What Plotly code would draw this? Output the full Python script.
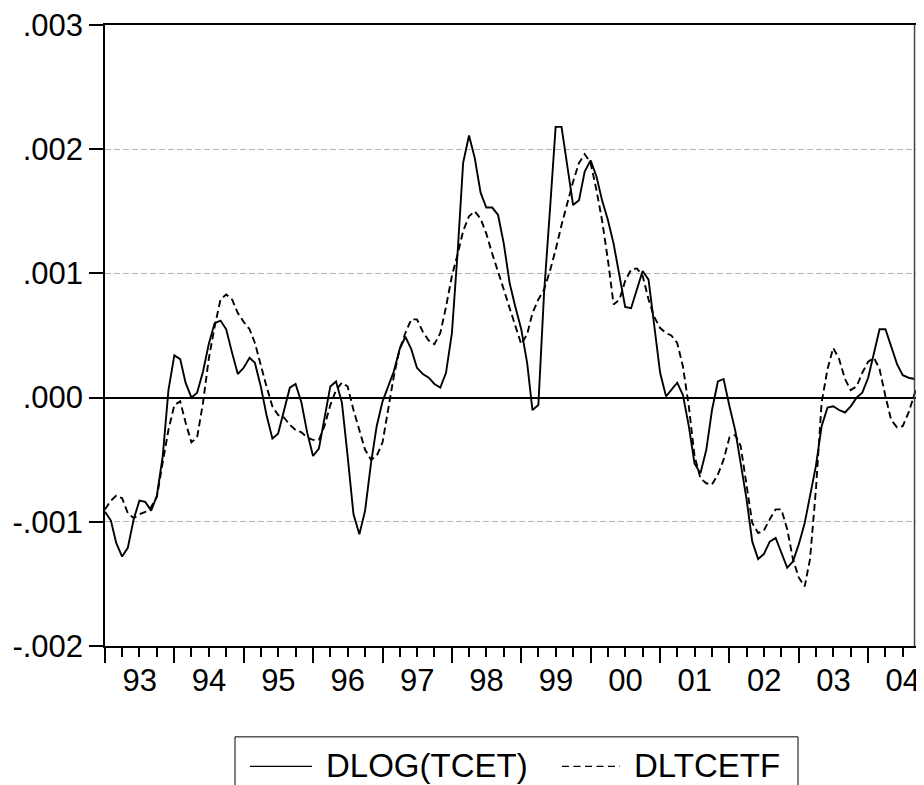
import pandas as pd
import plotly.graph_objects as go

START = "1993-01-01"
SAMPLE_END = "2004-09-01"
AXIS_END = "2004-12-02"

# DLOG(TCET), monthly 1993M01 .. 2004M09
dlog_tcet = [
    -0.00092, -0.00099, -0.00117, -0.00128, -0.00121, -0.00098, -0.00083, -0.00084, -0.00091, -0.00079, -0.00047, 0.00006,
    0.00034, 0.00031, 0.00012, 0.00000, 0.00004, 0.00021, 0.00043, 0.00060, 0.00062, 0.00055, 0.00036, 0.00019,
    0.00024, 0.00032, 0.00028, 0.00009, -0.00014, -0.00033, -0.00029, -0.00011, 0.00008, 0.00011, -0.00004, -0.00028,
    -0.00047, -0.00041, -0.00018, 0.00009, 0.00013, -0.00004, -0.00047, -0.00094, -0.00110, -0.00091, -0.00053, -0.00023,
    -0.00003, 0.00009, 0.00021, 0.00039, 0.00049, 0.00039, 0.00024, 0.00019, 0.00016, 0.00011, 0.00008, 0.00020,
    0.00052, 0.00119, 0.00189, 0.00211, 0.00193, 0.00165, 0.00153, 0.00153, 0.00147, 0.00124, 0.00092, 0.00073,
    0.00055, 0.00028, -0.00010, -0.00006, 0.00084, 0.00151, 0.00218, 0.00218, 0.00186, 0.00155, 0.00159, 0.00182,
    0.00191, 0.00178, 0.00159, 0.00143, 0.00124, 0.00098, 0.00073, 0.00072, 0.00087, 0.00102, 0.00095, 0.00057,
    0.00020, 0.00001, 0.00006, 0.00012, 0.00002, -0.00023, -0.00053, -0.00061, -0.00042, -0.00010, 0.00013, 0.00015,
    -0.00007, -0.00027, -0.00053, -0.00082, -0.00116, -0.00130, -0.00126, -0.00116, -0.00113, -0.00125, -0.00137, -0.00132,
    -0.00118, -0.00101, -0.00079, -0.00055, -0.00023, -0.00008, -0.00007, -0.00010, -0.00012, -0.00007, 0.00000, 0.00004,
    0.00016, 0.00036, 0.00055, 0.00055, 0.00041, 0.00027, 0.00018, 0.00016, 0.00015,
]

# DLTCETF, monthly 1993M01 .. 2004M11
dltcetf = [
    -0.00090, -0.00083, -0.00079, -0.00081, -0.00093, -0.00097, -0.00094, -0.00092, -0.00088, -0.00080, -0.00052, -0.00026,
    -0.00006, -0.00003, -0.00020, -0.00036, -0.00032, -0.00004, 0.00031, 0.00057, 0.00079, 0.00083, 0.00079, 0.00068,
    0.00061, 0.00055, 0.00044, 0.00025, 0.00009, -0.00007, -0.00014, -0.00016, -0.00022, -0.00026, -0.00028, -0.00032,
    -0.00034, -0.00034, -0.00023, -0.00006, 0.00006, 0.00012, 0.00009, -0.00010, -0.00026, -0.00042, -0.00050, -0.00047,
    -0.00036, -0.00007, 0.00017, 0.00039, 0.00052, 0.00063, 0.00063, 0.00053, 0.00046, 0.00043, 0.00052, 0.00073,
    0.00098, 0.00116, 0.00134, 0.00146, 0.00150, 0.00144, 0.00132, 0.00116, 0.00102, 0.00087, 0.00072, 0.00057,
    0.00043, 0.00051, 0.00068, 0.00079, 0.00087, 0.00102, 0.00119, 0.00139, 0.00158, 0.00174, 0.00189, 0.00196,
    0.00189, 0.00167, 0.00143, 0.00111, 0.00075, 0.00079, 0.00094, 0.00103, 0.00104, 0.00098, 0.00079, 0.00065,
    0.00056, 0.00052, 0.00050, 0.00044, 0.00025, -0.00007, -0.00047, -0.00065, -0.00069, -0.00070, -0.00062, -0.00050,
    -0.00032, -0.00030, -0.00039, -0.00071, -0.00101, -0.00109, -0.00107, -0.00098, -0.00090, -0.00090, -0.00106, -0.00130,
    -0.00145, -0.00152, -0.00130, -0.00074, -0.00004, 0.00023, 0.00040, 0.00031, 0.00015, 0.00006, 0.00009, 0.00020,
    0.00029, 0.00032, 0.00023, 0.00001, -0.00018, -0.00024, -0.00023, -0.00012, 0.00003, 0.00014, 0.00022,
]

y_tickvals = [-0.002, -0.001, 0.0, 0.001, 0.002, 0.003]
y_ticktext = ["-.002", "-.001", ".000", ".001", ".002", ".003"]
series_names = ["DLOG(TCET)", "DLTCETF"]

dates_a = pd.date_range(START, periods=len(dlog_tcet), freq="MS")
dates_b = pd.date_range(START, periods=len(dltcetf), freq="MS")

FONT = "Liberation Sans, Arial, Helvetica, sans-serif"
W, H = 924, 785
OFF = 8  # page body margin in the browser
L, R, T, B = 105 - OFF, 0, 24.5 - OFF, H - (646.5 - OFF)
PW = W - L - R
PH = H - T - B


def px_x(sx):
    return (sx - OFF - L) / PW


def px_y(sy):
    return (H - B - (sy - OFF)) / PH


fig = go.Figure()
fig.add_trace(go.Scatter(x=dates_a, y=dlog_tcet, mode="lines", name=series_names[0],
                         line=dict(color="black", width=1.9), showlegend=False))
fig.add_trace(go.Scatter(x=dates_b, y=dltcetf, mode="lines", name=series_names[1],
                         line=dict(color="black", width=1.9, dash="7px,4px"), showlegend=False))

shapes = [
    dict(type="line", xref="x", yref="paper", x0=SAMPLE_END, x1=SAMPLE_END, y0=0, y1=1,
         line=dict(color="#444444", width=1.5)),
    # legend box
    dict(type="rect", xref="paper", yref="paper", x0=px_x(235), x1=px_x(798), y0=px_y(737.5), y1=px_y(830),
         line=dict(color="black", width=1)),
    dict(type="line", xref="paper", yref="paper", x0=px_x(250), x1=px_x(312), y0=px_y(767), y1=px_y(767),
         line=dict(color="black", width=1.3)),
    dict(type="line", xref="paper", yref="paper", x0=px_x(562), x1=px_x(620), y0=px_y(767), y1=px_y(767),
         line=dict(color="black", width=1.3, dash="7px,4.5px")),
]
annotations = [
    dict(xref="paper", yref="paper", x=px_x(324), y=px_y(766), text=series_names[0], showarrow=False,
         xanchor="left", yanchor="middle", font=dict(family=FONT, size=33, color="black")),
    dict(xref="paper", yref="paper", x=px_x(632), y=px_y(766), text=series_names[1], showarrow=False,
         xanchor="left", yanchor="middle", font=dict(family=FONT, size=33, color="black")),
]

fig.update_layout(
    width=W, height=H,
    margin=dict(l=L, r=R, t=T, b=B, pad=0, autoexpand=False),
    paper_bgcolor="white", plot_bgcolor="white",
    font=dict(family=FONT, size=31, color="black"),
    shapes=shapes, annotations=annotations,
    showlegend=False,
)
fig.update_xaxes(
    type="date", range=[START, AXIS_END], automargin=False, ticklabeloverflow="allow",
    showline=True, linecolor="black", linewidth=1.5, mirror=True,
    ticks="outside", ticklen=15, tickwidth=1.5, tickcolor="black",
    tick0=START, dtick="M12", tickformat="%y", ticklabelmode="period", ticklabelstandoff=-9,
    minor=dict(ticks="outside", ticklen=9, tickwidth=1.5, tickcolor="black", dtick="M3", tick0=START, showgrid=False),
    showgrid=False, zeroline=False,
    tickfont=dict(family=FONT, size=31, color="black"),
)
fig.update_yaxes(
    range=[-0.002, 0.003], tickmode="array", tickvals=y_tickvals, ticktext=y_ticktext,
    automargin=False, ticklabeloverflow="allow",
    showline=True, linecolor="black", linewidth=1.5, mirror=False,
    ticks="outside", ticklen=14, tickwidth=1.5, tickcolor="black",
    showgrid=True, gridcolor="#b4b4b4", gridwidth=1, griddash="6px,3px",
    zeroline=True, zerolinecolor="black", zerolinewidth=1.5,
    tickfont=dict(family=FONT, size=31, color="black"),
)

fig.write_html("out.html")
